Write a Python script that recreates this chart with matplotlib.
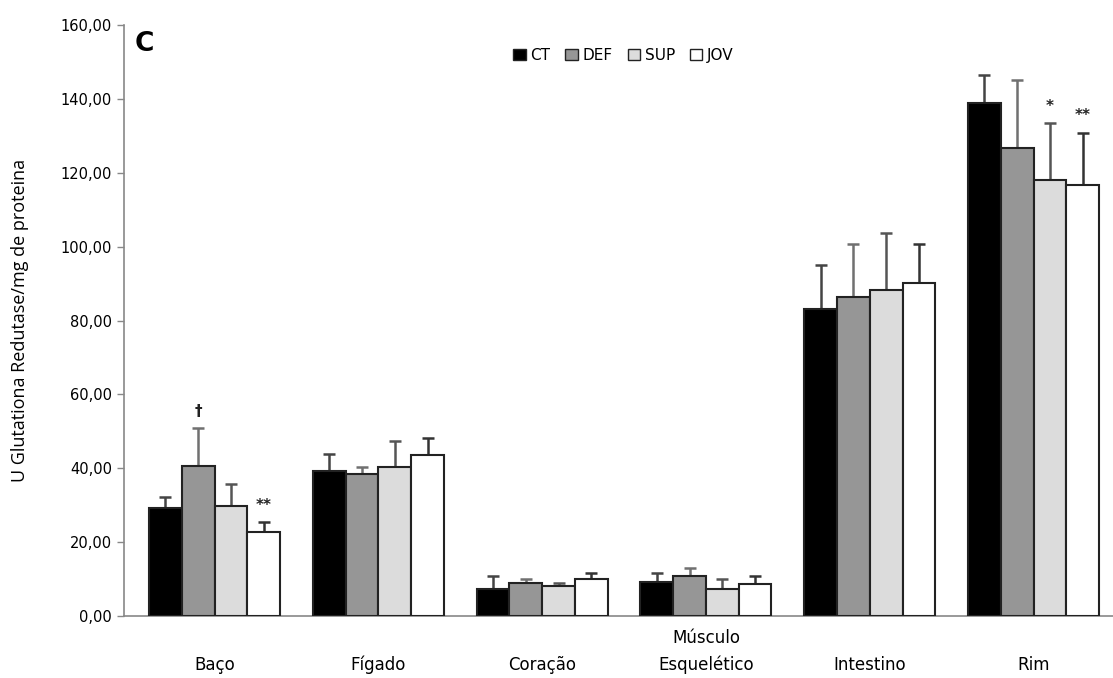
import numpy as np
import matplotlib
matplotlib.use("Agg")
import matplotlib.pyplot as plt
from matplotlib.patches import Patch

plt.rcParams['font.family'] = ['DejaVu Sans']

organs = ["Baço", "Fígado", "Coração", "Músculo\nEsquelético", "Intestino", "Rim"]
groups = ["CT", "DEF", "SUP", "JOV"]

ct = [29.3, 39.3, 7.4, 9.2, 83.0, 138.8]
deff = [40.5, 38.4, 9.0, 10.8, 86.4, 126.6]
sup = [29.8, 40.4, 8.1, 7.4, 88.2, 118.0]
jov = [22.7, 43.5, 9.9, 8.8, 90.2, 116.6]

ct_err = [3.0, 4.7, 3.4, 2.5, 12.0, 7.7]
def_err = [10.3, 2.0, 0.9, 2.1, 14.3, 18.5]
sup_err = [5.9, 7.0, 0.9, 2.5, 15.5, 15.5]
jov_err = [2.7, 4.8, 1.8, 2.0, 10.5, 14.3]

# significance marks: (organ index, group index, symbol)
marks = [(0, 1, "†"), (0, 3, "**"), (5, 2, "*"), (5, 3, "**")]

colors = ["#000000", "#969696", "#dcdcdc", "#ffffff"]
err_colors = ["#444444", "#707070", "#555555", "#333333"]

values = [ct, deff, sup, jov]
errors = [ct_err, def_err, sup_err, jov_err]

fig = plt.figure(figsize=(11.13, 6.78), dpi=100)
ax = fig.add_axes([0.1114, 0.0914, 0.8886, 0.8716])

x = np.arange(len(organs))
w = 0.2
for i in range(4):
    pos = x + (i - 1.5) * w
    ax.bar(pos, values[i], w, color=colors[i], edgecolor="#222222", linewidth=1.5,
           label=groups[i], zorder=3)
    ax.errorbar(pos, values[i], yerr=[np.zeros(len(organs)), errors[i]], fmt="none",
                ecolor=err_colors[i], elinewidth=1.8, capsize=4, capthick=1.8, zorder=2)

for oi, gi, sym in marks:
    top = values[gi][oi] + errors[gi][oi]
    ax.text(x[oi] + (gi - 1.5) * w, top + 2.5, sym, ha="center", va="bottom",
            fontsize=11, fontweight="bold", color="#222222")

ax.set_xlim(-0.553, len(organs) - 0.515)
ax.set_ylim(0, 160)
ax.set_yticks(np.arange(0, 161, 20))
ax.set_yticklabels([f"{v:.2f}".replace(".", ",") for v in np.arange(0, 161, 20)],
                   fontsize=10.5)
ax.set_xticks([])

# category names, bottom-aligned under each group
for xi, name in zip(x, organs):
    lines = name.split("\n")
    for k, line in enumerate(reversed(lines)):
        ax.annotate(line, xy=(xi, 0), xycoords=("data", "axes fraction"),
                    xytext=(0, -39 + 19.5 * k), textcoords="offset points",
                    ha="center", va="baseline", fontsize=12)

ax.tick_params(axis="y", length=5, color="#888888", width=1)

for s in ["top", "right"]:
    ax.spines[s].set_visible(False)
for s in ["left", "bottom"]:
    ax.spines[s].set_color("#888888")
    ax.spines[s].set_linewidth(1.2)

ax.set_ylabel("U Glutationa Redutase/mg de proteina", fontsize=13,
              family=["Open Sans", "DejaVu Sans"], labelpad=23)

ax.text(0.011, 0.99, "C", transform=ax.transAxes, fontsize=19, fontweight="heavy",
        va="top", ha="left")

handles = [Patch(facecolor=c, edgecolor="#222222", linewidth=1) for c in colors]
ax.legend(handles, groups, loc="upper center", bbox_to_anchor=(0.505, 0.985), ncol=4,
          frameon=False, fontsize=11, handlelength=0.8, handleheight=0.8,
          handletextpad=0.3, columnspacing=1.0)

fig.savefig("out.png", dpi=100)
